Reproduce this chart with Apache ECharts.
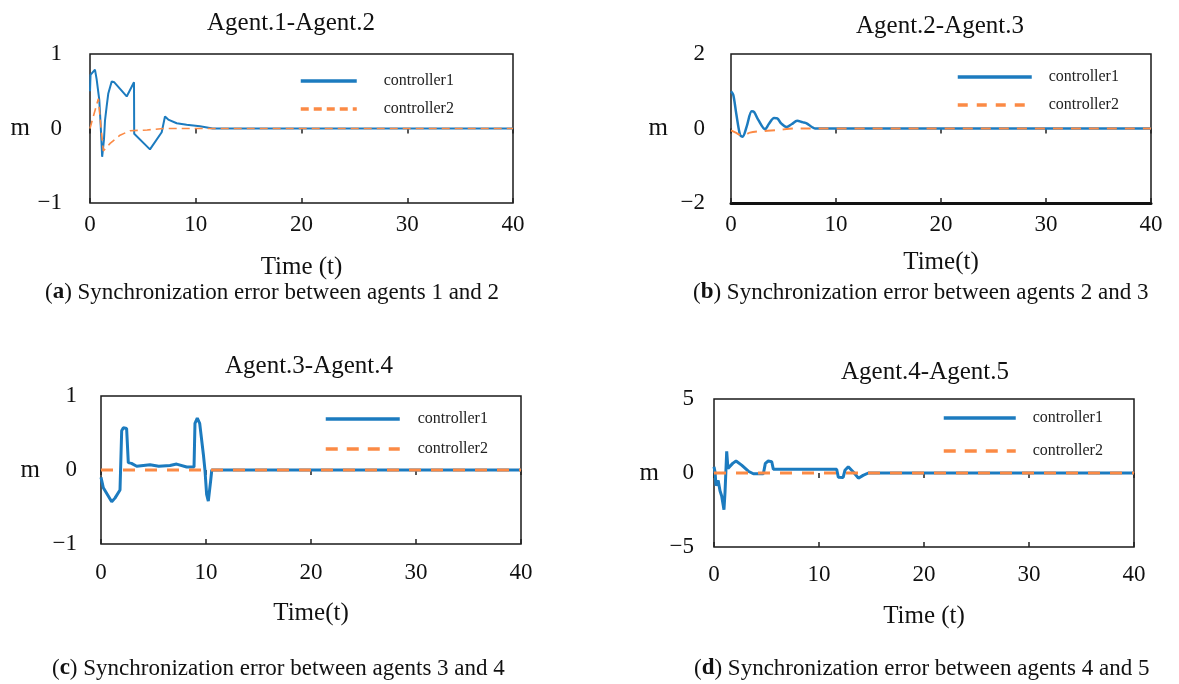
<!DOCTYPE html>
<html>
<head>
<meta charset="utf-8">
<script src="https://cdn.jsdelivr.net/npm/echarts@6/dist/echarts.min.js"></script>
<style>
  html, body { margin: 0; padding: 0; background: #fff; }
  #chart { width: 1179px; height: 684px; }
</style>
</head>
<body>
<div id="chart"></div>
<script>
// 各子图数据: t 为时间, v 为同步误差
const a1T = [0, 0.05, 0.47, 0.63, 0.88, 1.0, 1.15, 1.32, 1.42, 1.57, 1.73, 2.05, 2.3, 3.47, 4.16, 4.18, 5.67, 6.78, 6.95, 7.09, 7.4, 8.2, 9.14, 10.4, 11.6, 40];
const a1V = [0.5, 0.72, 0.79, 0.66, 0.38, 0.07, -0.38, -0.15, 0.11, 0.29, 0.47, 0.63, 0.62, 0.43, 0.62, -0.07, -0.28, -0.05, -0.04, 0.16, 0.12, 0.07, 0.05, 0.03, 0, 0];
const a2T = [0, 0.31, 0.79, 1.0, 1.26, 1.9, 2.84, 3.78, 5.4, 7, 40];
const a2V = [0, 0.16, 0.4, 0.07, -0.3, -0.2, -0.09, -0.03, -0.02, 0, 0];

const b1T = [0, 0.22, 0.5, 0.86, 1.1, 1.49, 1.97, 2.2, 2.6, 3.24, 3.6, 4.1, 4.4, 4.8, 5.3, 5.8, 6.3, 6.8, 7.2, 7.7, 8.0, 40];
const b1V = [1.0, 0.9, 0.4, -0.17, -0.22, 0.05, 0.46, 0.44, 0.23, -0.02, 0.12, 0.28, 0.27, 0.13, 0.04, 0.12, 0.21, 0.17, 0.14, 0.04, 0, 0];
const b2T = [0, 0.5, 1.1, 1.8, 3, 4.5, 6, 40];
const b2V = [-0.05, -0.12, -0.2, -0.11, -0.07, -0.04, 0, 0];

const c1T = [0, 0.22, 1.02, 1.33, 1.81, 1.97, 2.13, 2.44, 2.6, 2.9, 3.4, 4.67, 5.5, 6.57, 7.2, 8.16, 8.86, 8.95, 9.17, 9.4, 9.75, 9.9, 10.06, 10.22, 10.44, 10.55, 11.6, 40];
const c1V = [-0.1, -0.24, -0.43, -0.38, -0.27, 0.53, 0.57, 0.56, 0.1, 0.09, 0.05, 0.07, 0.05, 0.06, 0.08, 0.04, 0.04, 0.63, 0.7, 0.63, 0.21, 0, -0.33, -0.42, -0.15, 0, 0, 0];
const c2T = [0, 40];
const c2V = [0, 0];

const d1T = [0, 0.1, 0.19, 0.4, 0.57, 0.73, 0.85, 0.95, 1.05, 1.21, 1.33, 1.52, 1.78, 2.1, 2.63, 3.27, 3.75, 4.7, 4.89, 5.17, 5.5, 5.65, 6.9, 11.68, 11.84, 12.3, 12.47, 12.79, 13.27, 13.75, 14.2, 14.7, 40];
const d1V = [0.42, 0.07, -0.85, -0.5, -1.2, -1.55, -1.5, -2.48, -1.3, 1.46, 0.3, 0.42, 0.65, 0.81, 0.53, 0.12, -0.05, -0.05, 0.65, 0.81, 0.76, 0.25, 0.25, 0.25, -0.28, -0.3, 0.18, 0.42, 0.07, -0.35, -0.16, 0, 0];
const d2T = [0, 40];
const d2V = [0, 0];

const titles = ['Agent.1-Agent.2', 'Agent.2-Agent.3', 'Agent.3-Agent.4', 'Agent.4-Agent.5'];
const xNames = ['Time (t)', 'Time(t)', 'Time(t)', 'Time (t)'];
const captions = [
  ['a', ' Synchronization error between agents 1 and 2'],
  ['b', ' Synchronization error between agents 2 and 3'],
  ['c', ' Synchronization error between agents 3 and 4'],
  ['d', ' Synchronization error between agents 4 and 5']
];
const yRanges = [[-1, 1, 1], [-2, 2, 2], [-1, 1, 1], [-5, 5, 5]];
const legendNames = ['controller1', 'controller2'];

const serif = 'Liberation Serif';
const blue = '#1c7bbf';
const orange = '#fb8a45';

// 版面参数 (像素)
const panels = [
  { grid: [90, 54, 423, 149], titleX: 291, titleY: 11, capX: 45, capY: 281, labM: 10, nameGap: 52, yLabM: 28, mGap: 60,
    leg: [299, 72, 56, 10, 22], w1: 2, w2: 1.6, dash: [8, 5], legDash: [8, 5], axisW: 0 },
  { grid: [731, 54, 420, 149], titleX: 940, titleY: 14, capX: 693, capY: 281, labM: 10, nameGap: 47, yLabM: 26, mGap: 63,
    leg: [956, 68, 74, 10, 12], w1: 2.5, w2: 2, dash: [10, 8], legDash: [10, 9], axisW: 3 },
  { grid: [101, 396, 420, 148], titleX: 309, titleY: 354, capX: 52, capY: 657, labM: 17, nameGap: 57, yLabM: 24, mGap: 61,
    leg: [324, 410, 74, 12, 13], w1: 3, w2: 3, dash: [12, 10], legDash: [12, 9], axisW: 0 },
  { grid: [714, 399, 420, 148], titleX: 925, titleY: 360, capX: 694, capY: 657, labM: 16, nameGap: 57, yLabM: 20, mGap: 55,
    leg: [942, 409, 72, 15, 12], w1: 3, w2: 3, dash: [12, 10], legDash: [12, 9], axisW: 0 }
];

const seriesData = [[a1T, a1V, a2T, a2V], [b1T, b1V, b2T, b2V], [c1T, c1V, c2T, c2V], [d1T, d1V, d2T, d2V]];
const zip = (t, v) => t.map((x, i) => [x, v[i]]);
const keys = ['a', 'b', 'c', 'd'];

const option = {
  animation: false,
  backgroundColor: '#fff',
  title: [],
  grid: [],
  xAxis: [],
  yAxis: [],
  legend: [],
  series: []
};

panels.forEach((p, i) => {
  const [gl, gt, gw, gh] = p.grid;
  option.grid.push({ left: gl, top: gt, width: gw, height: gh, show: true, borderColor: '#1a1a1a', borderWidth: 1.5, backgroundColor: 'transparent' });

  option.title.push({
    text: titles[i], left: p.titleX, top: p.titleY, textAlign: 'center', padding: 0,
    textStyle: { fontFamily: serif, fontSize: 25, fontWeight: 'normal', color: '#111' }
  });
  option.title.push({
    text: '({b|' + captions[i][0] + '})' + captions[i][1], left: p.capX, top: p.capY, padding: 0,
    textStyle: {
      fontFamily: serif, fontSize: 23, fontWeight: 'normal', color: '#111',
      rich: { b: { fontFamily: serif, fontSize: 23, fontWeight: 'bold', color: '#111' } }
    }
  });

  const xBase = {
    gridIndex: i, type: 'value', min: 0, max: 40, interval: 10,
    splitLine: { show: false },
    axisTick: { show: true, inside: true, length: 5, lineStyle: { color: '#222', width: 1.5 } }
  };
  option.xAxis.push(Object.assign({}, xBase, {
    position: 'bottom',
    name: xNames[i], nameLocation: 'middle', nameGap: p.nameGap,
    nameTextStyle: { fontFamily: serif, fontSize: 25, color: '#111' },
    axisLine: { show: p.axisW > 0, onZero: false, lineStyle: { color: '#111', width: p.axisW || 1 } },
    axisLabel: { margin: p.labM, fontFamily: serif, fontSize: 23, color: '#111' }
  }));
  option.xAxis.push(Object.assign({}, xBase, {
    position: 'top',
    axisLine: { show: false },
    axisLabel: { show: false }
  }));

  const [ymin, ymax, yint] = yRanges[i];
  option.yAxis.push({
    gridIndex: i, type: 'value', min: ymin, max: ymax, interval: yint,
    name: 'm', nameLocation: 'middle', nameRotate: 0, nameGap: p.mGap,
    nameTextStyle: { fontFamily: serif, fontSize: 25, color: '#111' },
    splitLine: { show: false },
    axisTick: { show: false },
    axisLine: { show: false },
    axisLabel: {
      margin: p.yLabM, fontFamily: serif, fontSize: 23, color: '#111',
      formatter: v => String(v).replace('-', '\u2212')
    }
  });

  const n1 = keys[i] + '|' + legendNames[0];
  const n2 = keys[i] + '|' + legendNames[1];
  const [t1, v1, t2, v2] = seriesData[i];
  option.series.push({
    name: n1, type: 'line', xAxisIndex: i * 2, yAxisIndex: i, data: zip(t1, v1),
    symbol: 'none', smooth: i === 1 ? 0.3 : false,
    lineStyle: { color: blue, width: p.w1 }, itemStyle: { color: blue }
  });
  option.series.push({
    name: n2, type: 'line', xAxisIndex: i * 2, yAxisIndex: i, data: zip(t2, v2),
    symbol: 'none', smooth: i === 1 ? 0.3 : false,
    lineStyle: { color: orange, width: p.w2, type: p.dash }, itemStyle: { color: orange }
  });

  const [ll, lt, lw, lg, lpad] = p.leg;
  const hidden = { opacity: 0, color: 'transparent', borderWidth: 0 };
  option.legend.push({
    orient: 'vertical', left: ll, top: lt, padding: 0, itemGap: lg,
    itemWidth: lw, itemHeight: 18, selectedMode: false,
    data: [
      { name: n1, itemStyle: hidden, lineStyle: { width: 3.5, color: blue } },
      { name: n2, itemStyle: hidden, lineStyle: { width: 3.5, color: orange, type: p.legDash } }
    ],
    formatter: name => name.split('|')[1],
    textStyle: { fontFamily: serif, fontSize: 16, color: '#222', lineHeight: 18, padding: [0, 0, 0, lpad] }
  });
});

const chart = echarts.init(document.getElementById('chart'));
chart.setOption(option);
</script>
</body>
</html>
